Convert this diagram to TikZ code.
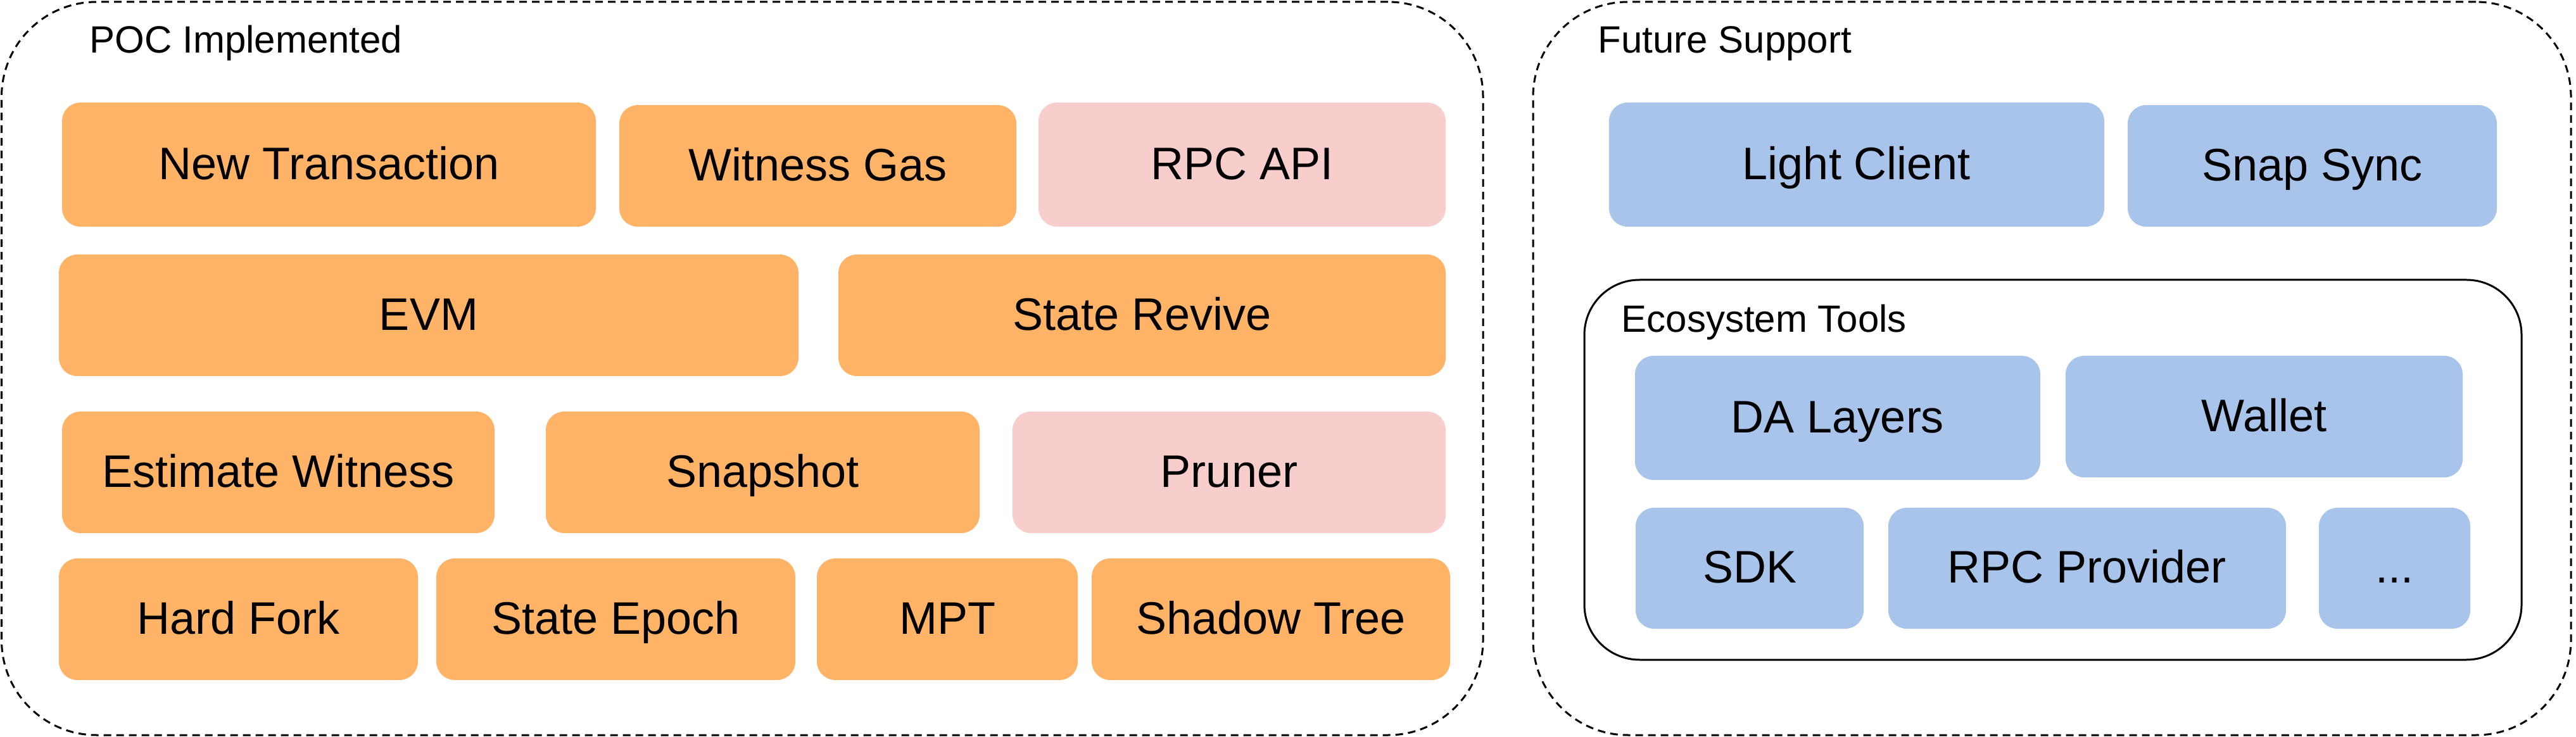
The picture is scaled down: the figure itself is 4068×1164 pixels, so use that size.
\documentclass[tikz,border=0pt]{standalone}
\usepackage{fontspec}
\setmainfont{Liberation Sans}
\definecolor{orangefill}{HTML}{FFB366}
\definecolor{pinkfill}{HTML}{F8CECC}
\definecolor{bluefill}{HTML}{A9C4EB}
\tikzset{
  cell/.style={rounded corners=7.25pt, inner sep=0pt, text=black,
    font=\fontsize{18}{21}\selectfont, text height=12.9pt, text depth=1.2pt},
  obox/.style={cell, fill=orangefill},
  pbox/.style={cell, fill=pinkfill},
  bluebox/.style={cell, fill=bluefill},
  groupframe/.style={draw=black, line width=0.75pt, dash pattern=on 3pt off 2pt,
    rounded corners=37.5pt, inner sep=0pt},
  ecoframe/.style={draw=black, line width=0.75pt, rounded corners=21.75pt, inner sep=0pt},
  grouplabel/.style={font=\fontsize{15}{18}\selectfont, anchor=base west, inner sep=0pt}
}
\newcommand\pocbox[7]{\node[#2, minimum width={(#5-#3)*0.25pt}, minimum height={(#6-#4)*0.25pt}] (#1) at ({(#3+#5)/2},{(#4+#6)/2}) {#7};}
\begin{document}
\begin{tikzpicture}[x=0.25pt, y=-0.25pt]
\useasboundingbox (0,0) rectangle (4068,1164);
% containers
\pocbox{poc}{groupframe}{2.5}{3}{2342}{1161}{}
\pocbox{future}{groupframe}{2421}{3}{4060}{1161}{}
\pocbox{eco}{ecoframe}{2502}{442}{3982}{1042}{}
% labels
\node[grouplabel] (poclabel) at (141,84) {POC Implemented};
\node[grouplabel] (futurelabel) at (2523,84) {Future Support};
\node[grouplabel] (ecolabel) at (2560,525) {Ecosystem Tools};
% POC boxes
\pocbox{newtx}{obox}{98}{162}{941}{358}{New Transaction}
\pocbox{wgas}{obox}{978}{166}{1605}{358}{Witness Gas}
\pocbox{rpcapi}{pbox}{1640}{162}{2283}{358}{RPC API}
\pocbox{evm}{obox}{93}{402}{1261}{594}{EVM}
\pocbox{revive}{obox}{1324}{402}{2283}{594}{State Revive}
\pocbox{estw}{obox}{98}{650}{781}{842}{Estimate Witness}
\pocbox{snapshot}{obox}{862}{650}{1547}{842}{Snapshot}
\pocbox{pruner}{pbox}{1599}{650}{2283}{842}{Pruner}
\pocbox{hardfork}{obox}{93}{882}{660}{1074}{Hard Fork}
\pocbox{epoch}{obox}{689}{882}{1256}{1074}{State Epoch}
\pocbox{mpt}{obox}{1290}{882}{1702}{1074}{MPT}
\pocbox{shadow}{obox}{1724}{882}{2290}{1074}{Shadow Tree}
% Future boxes
\pocbox{light}{bluebox}{2541}{162}{3323}{358}{Light Client}
\pocbox{snapsync}{bluebox}{3360}{166}{3943}{358}{Snap Sync}
\pocbox{da}{bluebox}{2582}{562}{3222}{758}{DA Layers}
\pocbox{wallet}{bluebox}{3262}{562}{3889}{754}{Wallet}
\pocbox{sdk}{bluebox}{2583}{802}{2943}{993}{SDK}
\pocbox{rpcprov}{bluebox}{2982}{802}{3610}{993}{RPC Provider}
\pocbox{more}{bluebox}{3662}{802}{3901}{993}{...}
\end{tikzpicture}
\end{document}
